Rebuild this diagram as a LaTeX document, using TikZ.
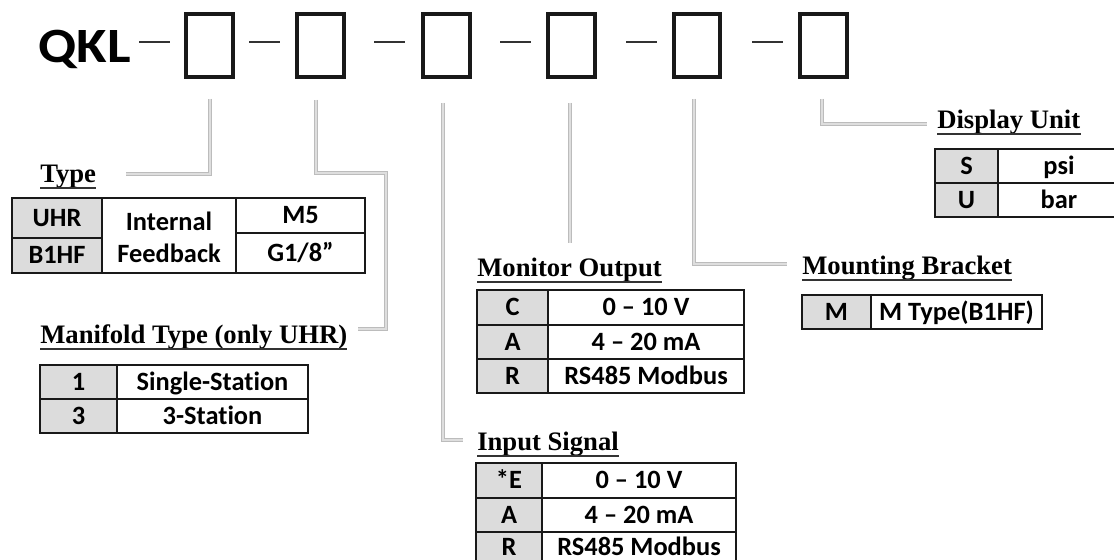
\documentclass[tikz,border=0pt]{standalone}
\usepackage{fontspec}
\setmainfont{Liberation Serif}
\newfontfamily\calfont[Ligatures=NoCommon]{Carlito}
\usetikzlibrary{calc}
\definecolor{keygray}{RGB}{220,220,220}
\definecolor{leadedge}{RGB}{188,188,188}
\definecolor{leadfill}{RGB}{222,222,222}
\tikzset{
 tbl/.style={draw=black!90, line width=2.1pt},
 celltext/.style={font=\calfont\bfseries\fontsize{19.8}{20}\selectfont, inner sep=0pt, text height=12.6pt, text depth=0pt},
 heading/.style={font=\bfseries\fontsize{20}{22}\selectfont, inner sep=0pt, anchor=base west},
 uline/.style={draw=black!80, line width=1.3pt},
 codebox/.style={draw=black!90, line width=2.4pt},
 joiner/.style={draw=black!80, line width=1.6pt},
 leaderbase/.style={draw=leadedge, line width=3.4pt},
 leadertop/.style={draw=leadfill, line width=1.9pt},
}
\newcommand\tcell[7]{\draw[tbl, fill=#6] (#2,#3) rectangle (#4,#5); \node[celltext] (#1) at ($(#2,#3)!0.5!(#4,#5)$) {#7};}
\newcommand\leader[1]{\draw[leaderbase] #1; \draw[leadertop] #1;}
\newcommand\heading[3]{\node[heading] (#1) at (#2) {#3}; \draw[uline] ($(#1.base west)+(0,6)$) -- ($(#1.base east)+(0,6)$);}
\begin{document}
\begin{tikzpicture}[x=0.75pt,y=-0.75pt]
\useasboundingbox (0,0) rectangle (1114,560);
\clip (0,0) rectangle (1114,560);
\fill[white] (0,0) rectangle (1114,560);
% code line
\node[font=\calfont\bfseries\fontsize{37}{40}\selectfont, inner sep=0pt, anchor=base west, xscale=1.13] (qkl) at (38,63) {QKL};
\foreach \n/\a/\b in {1/186/233, 2/297/344, 3/423/470, 4/548/595, 5/674/720, 6/800/847}{
  \draw[codebox] (\a,14) rectangle (\b,77);
  \coordinate (b\n) at ({(\a+\b)/2},77);
}
\foreach \a/\b in {139/170, 249/280, 374/405, 500/531, 626/657, 752/783}{
  \draw[joiner] (\a,42) -- (\b,42);
}
% leader coordinates
\coordinate (s1) at (210,99);
\coordinate (s2) at (316,100);
\coordinate (s3) at (443,103);
\coordinate (s4) at (570,103);
\coordinate (s5) at (694,99);
\coordinate (s6) at (822,99);
\coordinate (e1) at (126,174);
\coordinate (e2) at (358,329);
\coordinate (e3) at (463,440);
\coordinate (e4) at (570,243);
\coordinate (e5) at (787,264);
\coordinate (e6) at (927,124);
\leader{(s1) |- (e1)}
\leader{(s2) -- (316,173) -- (386,173) |- (e2)}
\leader{(s3) |- (e3)}
\leader{(s4) -- (e4)}
\leader{(s5) |- (e5)}
\leader{(s6) |- (e6)}
% headings
\heading{hType}{40,182}{Type}
\heading{hMan}{40,343}{Manifold Type (only UHR)}
\heading{hMon}{477,276}{Monitor Output}
\heading{hIn}{477,450}{Input Signal}
\heading{hMount}{802,274}{Mounting Bracket}
\heading{hDisp}{937,128}{Display Unit}
% Type table
\tcell{tUHR}{12}{198}{102}{238}{keygray}{UHR}
\tcell{tB1HF}{12}{238}{102}{273}{keygray}{B1HF}
\draw[tbl, fill=white] (102,198) rectangle (236,273);
\node[inner sep=0pt, align=center, font=\calfont\bfseries\fontsize{19.8}{24}\selectfont] (tIF) at (169,237) {Internal\\Feedback};
\tcell{tM5}{236}{198}{365}{233}{white}{M5}
\tcell{tG}{236}{233}{365}{273}{white}{G1/8”}
% Manifold table
\tcell{m1}{40}{365}{117}{399}{keygray}{1}
\tcell{m1t}{117}{365}{308}{399}{white}{Single-Station}
\tcell{m3}{40}{399}{117}{433}{keygray}{3}
\tcell{m3t}{117}{399}{308}{433}{white}{3-Station}
% Monitor output
\tcell{oC}{477}{290}{548}{325}{keygray}{C}
\tcell{oCt}{548}{290}{744}{325}{white}{0 – 10 V}
\tcell{oA}{477}{325}{548}{359}{keygray}{A}
\tcell{oAt}{548}{325}{744}{359}{white}{4 – 20 mA}
\tcell{oR}{477}{359}{548}{393}{keygray}{R}
\tcell{oRt}{548}{359}{744}{393}{white}{RS485 Modbus}
% Input signal
\tcell{iE}{476}{463}{542}{498}{keygray}{*E}
\tcell{iEt}{542}{463}{736}{498}{white}{0 – 10 V}
\tcell{iA}{476}{498}{542}{532}{keygray}{A}
\tcell{iAt}{542}{498}{736}{532}{white}{4 – 20 mA}
\tcell{iR}{476}{532}{542}{563}{keygray}{R}
\tcell{iRt}{542}{532}{736}{563}{white}{RS485 Modbus}
% Mounting bracket
\tcell{bM}{802}{295}{871}{329}{keygray}{M}
\tcell{bMt}{871}{295}{1042}{329}{white}{M Type(B1HF)}
% Display unit
\tcell{dS}{935}{149}{998}{183}{keygray}{S}
\tcell{dSt}{998}{149}{1120}{183}{white}{psi}
\tcell{dU}{935}{183}{998}{217}{keygray}{U}
\tcell{dUt}{998}{183}{1120}{217}{white}{bar}
\end{tikzpicture}
\end{document}
